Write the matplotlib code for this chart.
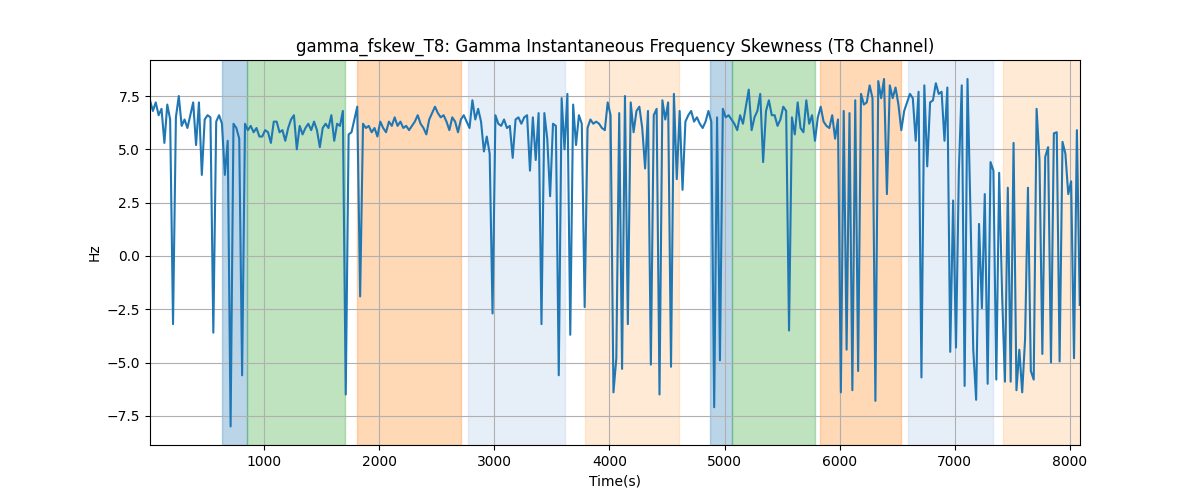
import numpy as np
import matplotlib
matplotlib.use('Agg')
import matplotlib.pyplot as plt

# sampling of the skewness trace (seconds)
t_start = 10
t_step = 25

# values, grouped by ~1000 s chunks
vals_0_1000 = [7.3, 6.8, 7.2, 6.6, 6.9, 5.3, 7.1, 6.4, -3.2, 6.5,
               7.5, 6.1, 6.4, 6.0, 6.6, 7.2, 5.2, 7.2, 3.8, 6.4,
               6.6, 6.5, -3.6, 6.3, 6.6, 6.2, 3.8, 5.4, -8.0, 6.2,
               6.0, 5.5, -5.6, 6.2, 5.9, 6.1, 5.8, 6.0, 5.6, 5.6,
               5.9, 5.8]
vals_1000_2000 = [5.3, 6.3, 6.3, 5.8, 5.9, 5.4, 6.0, 6.4, 6.6, 5.0,
                  6.1, 5.7, 6.0, 6.2, 5.9, 6.3, 5.9, 5.1, 6.0, 6.2,
                  6.0, 6.6, 5.4, 6.2, 6.1, 6.8, -6.5, 5.7, 5.8, 6.4,
                  7.0, -1.9, 6.2, 6.0, 6.1, 5.8, 6.0, 5.6, 6.3, 6.0]
vals_2000_3000 = [5.8, 6.3, 6.1, 6.5, 6.1, 6.3, 6.0, 6.1, 5.9, 6.1,
                  6.3, 6.6, 6.2, 6.0, 5.7, 6.4, 6.7, 7.0, 6.7, 6.5,
                  6.6, 6.3, 5.9, 6.5, 6.3, 5.8, 6.4, 6.6, 6.3, 6.0,
                  7.3, 6.4, 6.9, 6.3, 4.9, 5.6, 4.8, -2.7, 6.6, 6.2]
vals_3000_4000 = [6.1, 6.4, 6.0, 6.1, 4.6, 6.4, 6.5, 6.2, 6.5, 6.6,
                  4.0, 6.5, 4.5, 6.7, -3.2, 6.7, 5.5, 2.8, 6.2, 6.1,
                  -5.6, 7.4, 5.0, 7.6, -3.7, 7.1, 5.2, 6.6, 6.2, -2.4,
                  6.0, 6.4, 6.2, 6.3, 6.2, 6.0, 5.9, 7.2, 6.6, -6.4]
vals_4000_5000 = [-4.8, 6.7, -5.3, 7.5, -3.2, 7.2, 5.8, 6.8, 7.0, 6.0,
                  4.1, 6.8, -5.1, 6.6, 6.9, -6.5, 7.3, 6.4, 7.2, -5.2,
                  7.6, 3.6, 6.8, 3.1, 6.3, 6.6, 6.8, 6.3, 6.5, 6.2,
                  6.0, 6.3, 6.8, 6.3, -7.1, 6.5, -4.9, 6.9, 6.5, 6.6,
                  6.4]
vals_5000_6000 = [6.2, 5.9, 6.6, 6.2, 7.0, 7.8, 5.9, 6.5, 6.8, 7.6,
                  4.4, 6.8, 7.3, 6.6, 6.6, 6.1, 6.4, 7.0, 6.8, -3.5,
                  6.5, 5.7, 7.2, 6.0, 5.8, 7.3, 6.2, 6.6, 5.4, 6.5,
                  7.0, 6.3, 6.1, 6.0, 6.6, 5.5, 6.4, -6.4, 6.8, -4.4]
vals_6000_7000 = [6.7, -6.3, 7.3, -5.4, 7.6, 7.1, 7.2, 8.0, 7.4, -6.8,
                  8.2, 7.4, 8.3, 2.9, 8.0, 7.4, 7.9, 7.1, 5.9, 6.8,
                  7.2, 7.6, 7.4, 5.4, 7.7, -5.7, 8.0, 4.2, 7.2, 7.3,
                  8.1, 7.6, 7.7, 5.4, 7.9, -4.5, 2.6, -4.3, 4.0, 8.0]
vals_7000_8085 = [-6.1, 8.3, 2.2, -4.4, -6.75, 1.5, -2.45, 2.9, -6.0, 4.4,
                  4.0, -5.8, 3.9, -1.75, -5.9, 3.2, -5.9, 5.3, -6.3, -4.4,
                  -6.4, -3.9, 3.2, -5.4, -5.8, 6.9, 4.5, -4.6, 4.65, 5.1,
                  -5.0, 5.75, 5.8, -4.95, 5.35, 4.8, 2.9, 3.5, -4.8, 5.9,
                  -2.3]

# shaded event windows (start, end in seconds) and their colours
span_starts = [635, 852, 1808, 2772, 3788, 4874, 5064, 5829, 6593, 7418]
span_ends = [852, 1704, 2711, 3614, 4604, 5064, 5786, 6532, 7331, 8100]
span_colors = ['tab:blue', 'tab:green', 'tab:orange', '#aec7e8', '#ffbb78',
               'tab:blue', 'tab:green', 'tab:orange', '#aec7e8', '#ffbb78']

values = np.concatenate([vals_0_1000, vals_1000_2000, vals_2000_3000, vals_3000_4000,
                         vals_4000_5000, vals_5000_6000, vals_6000_7000, vals_7000_8085])
t = t_start + t_step * np.arange(len(values))

fig, ax = plt.subplots(figsize=(12, 5), dpi=100)

for x0, x1, c in zip(span_starts, span_ends, span_colors):
    ax.axvspan(x0, x1, color=c, alpha=0.3)

ax.plot(t, values, color='tab:blue', linewidth=1.5)

ax.set_xlim(t[0], t[-1] + 2)
ax.set_ylim(-8.87, 9.19)
ax.set_title('gamma_fskew_T8: Gamma Instantaneous Frequency Skewness (T8 Channel)')
ax.set_xlabel('Time(s)')
ax.set_ylabel('Hz')
ax.grid(True)

fig.savefig('out.png')
